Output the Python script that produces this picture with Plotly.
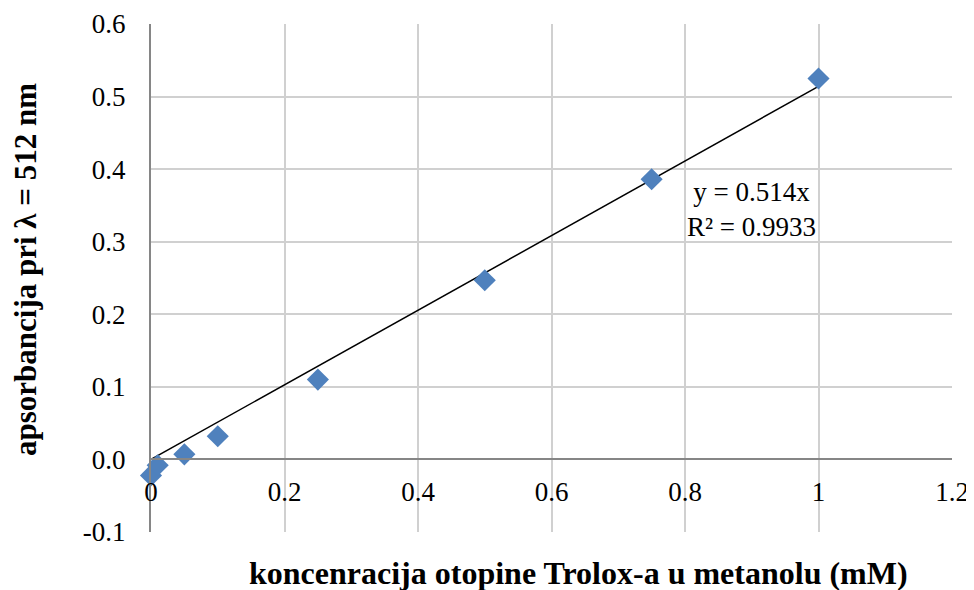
import plotly.graph_objects as go

conc = [0, 0.01, 0.05, 0.1, 0.25, 0.5, 0.75, 1.0]
absorb = [-0.022, -0.008, 0.007, 0.032, 0.110, 0.247, 0.386, 0.525]
slope = 0.514
trend_x = [0, 1.0]
trend_y = [slope * v for v in trend_x]

x_ticks = [0, 0.2, 0.4, 0.6, 0.8, 1.0, 1.2]
x_ticktext = ["0", "0.2", "0.4", "0.6", "0.8", "1", "1.2"]
y_ticks = [-0.1, 0.0, 0.1, 0.2, 0.3, 0.4, 0.5, 0.6]
y_ticktext = ["-0.1", "0.0", "0.1", "0.2", "0.3", "0.4", "0.5", "0.6"]

FONT = "Liberation Serif"
W, H = 974, 590
L, T, R, B = 143, 16, 30, 66
pw = W - L - R
ph = H - T - B
OFF = 8  # page body offset


def px_to_paper(sx, sy):
    fx, fy = sx - OFF, sy - OFF
    return (fx - L) / pw, (H - B - fy) / ph


fig = go.Figure()
fig.add_trace(go.Scatter(x=trend_x, y=trend_y, mode="lines",
                         line=dict(color="black", width=1.5), showlegend=False))
fig.add_trace(go.Scatter(x=conc, y=absorb, mode="markers",
                         marker=dict(symbol="diamond", size=17, color="#4F81BD",
                                     line=dict(width=0)),
                         cliponaxis=False, showlegend=False))

ymin, ymax = -0.1, 0.6
xt_x, xt_y = px_to_paper(578, 573)
yt_x, yt_y = px_to_paper(25, 270)

fig.update_layout(
    width=W, height=H,
    margin=dict(l=L, r=R, t=T, b=B, autoexpand=False),
    paper_bgcolor="white", plot_bgcolor="white",
    font=dict(family=FONT, size=27, color="black"),
    xaxis=dict(range=[0, 1.2], tickvals=x_ticks, ticktext=x_ticktext,
               showgrid=True, gridcolor="#D0D0D0", gridwidth=2,
               zeroline=False, showline=True, linecolor="#868686", linewidth=2,
               anchor="free", position=(0 - ymin) / (ymax - ymin),
               automargin=False,
               ticks="outside", ticklen=8, tickcolor="rgba(0,0,0,0)",
               tickfont=dict(family=FONT, size=27)),
    yaxis=dict(range=[ymin, ymax], tickvals=y_ticks, ticktext=y_ticktext,
               showgrid=True, gridcolor="#D0D0D0", gridwidth=2,
               zeroline=False, showline=True, linecolor="#868686", linewidth=2,
               automargin=False,
               ticks="outside", ticklen=18, tickcolor="rgba(0,0,0,0)",
               tickfont=dict(family=FONT, size=27)),
    annotations=[
        dict(text="y = 0.514x<br>R² = 0.9933", x=0.90, y=0.3445, xref="x", yref="y",
             xanchor="center", yanchor="middle", showarrow=False, align="center",
             font=dict(family=FONT, size=27)),
        dict(text="<b>koncenracija otopine Trolox-a u metanolu (mM)</b>",
             x=xt_x, y=xt_y, xref="paper", yref="paper", showarrow=False,
             xanchor="center", yanchor="middle",
             font=dict(family=FONT, size=32)),
        dict(text="<b>apsorbancija pri λ = 512 nm</b>", textangle=-90,
             x=yt_x, y=yt_y, xref="paper", yref="paper", showarrow=False,
             xanchor="center", yanchor="middle", borderpad=0,
             font=dict(family=FONT, size=31)),
    ],
)

fig.write_html("out.html")
